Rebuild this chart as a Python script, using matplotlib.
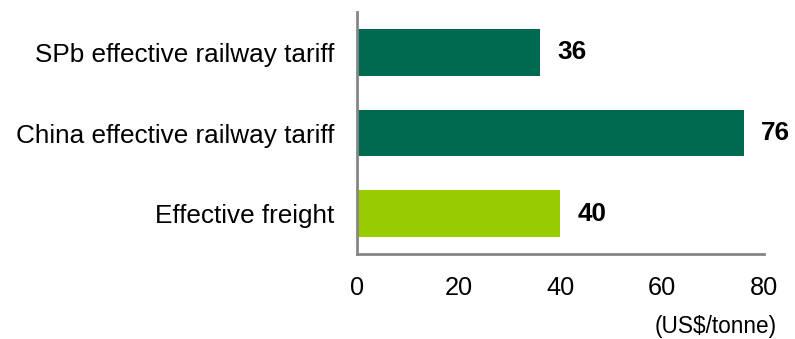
import matplotlib
matplotlib.use('Agg')
import matplotlib.pyplot as plt

plt.rcParams['font.family'] = ['Liberation Sans', 'DejaVu Sans']

categories = ['SPb effective railway tariff', 'China effective railway tariff', 'Effective freight']
values = [36, 76, 40]
bar_colors = ['#006A50', '#006A50', '#99CC00']
xticks = [0, 20, 40, 60, 80]
unit_label = '(US$/tonne)'

fig = plt.figure(figsize=(7.95, 3.39), dpi=100)
ax = fig.add_axes([0.449, 0.2507, 0.512, 0.7139])

ypos = list(range(len(categories)))
ax.barh(ypos, values, height=0.58, color=bar_colors)
ax.set_ylim(len(categories) - 0.5, -0.5)
ax.set_xlim(0, 80)
ax.set_xticks(xticks)
ax.set_yticks(ypos)
ax.set_yticklabels(categories, fontsize=18.8)
ax.tick_params(axis='both', length=0)
ax.tick_params(axis='x', pad=16, labelsize=18.3)
ax.tick_params(axis='y', pad=16)

for s in ['top', 'right']:
    ax.spines[s].set_visible(False)
for s in ['left', 'bottom']:
    ax.spines[s].set_color('#868686')
    ax.spines[s].set_linewidth(2)

# value labels
for y, v in zip(ypos, values):
    ax.annotate(str(v), (v, y), xytext=(12.5, 0), textcoords='offset points',
                ha='left', va='center', fontsize=18.8, fontweight='bold')

fig.text(777 / 795, 1 - 327 / 339, unit_label, ha='right', va='center', fontsize=16.3)

fig.savefig('out.png', dpi=100)
